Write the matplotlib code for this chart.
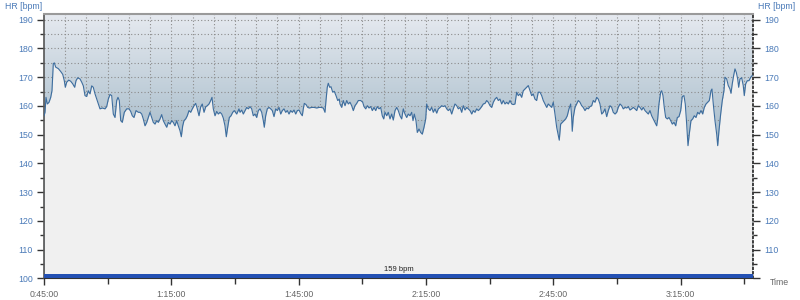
import matplotlib
matplotlib.use('Agg')
import matplotlib.pyplot as plt
import numpy as np
from matplotlib.ticker import MultipleLocator, FuncFormatter
from matplotlib.colors import LinearSegmentedColormap

plt.rcParams['font.family'] = ['Liberation Sans', 'DejaVu Sans']

# elapsed clock time in minutes (0:45:00 = 45)
time_min = [
    45.00, 45.24, 45.47, 45.78, 46.18, 46.58, 46.88, 47.19, 47.43, 47.76, 48.37, 48.93, 49.41, 49.78,
    50.02, 50.35, 50.82, 51.29, 51.76, 52.23, 52.54, 52.94, 53.48, 53.88, 54.26, 54.66, 55.06, 55.44,
    55.84, 56.24, 56.61, 57.02, 57.42, 57.79, 58.19, 58.74, 59.37, 59.77, 60.15, 60.55, 60.95, 61.33,
    61.73, 62.13, 62.43, 62.74, 63.07, 63.45, 63.92, 64.48, 65.03, 65.43, 65.80, 66.20, 66.68, 67.22,
    67.62, 68.02, 68.39, 68.80, 69.20, 69.57, 69.97, 70.37, 70.75, 71.15, 71.55, 71.93, 72.33, 72.73,
    73.11, 73.51, 73.91, 74.28, 74.69, 75.09, 75.46, 75.86, 76.26, 76.64, 77.04, 77.35, 77.68, 77.98,
    78.38, 78.76, 79.16, 79.56, 79.94, 80.34, 80.74, 81.12, 81.52, 81.92, 82.29, 82.70, 83.10, 83.47,
    83.87, 84.27, 84.58, 84.89, 85.29, 85.69, 86.06, 86.47, 86.87, 87.24, 87.64, 87.95, 88.28, 88.66,
    89.06, 89.46, 89.83, 90.40, 90.94,
    91.18, 91.58, 91.95, 92.36, 92.76, 93.13, 93.53, 93.93, 94.31, 94.71, 95.11, 95.49, 95.89, 96.29,
    96.67, 96.90, 97.23, 97.61, 98.01, 98.41, 98.79, 99.19, 99.59, 99.97, 100.37, 100.77, 101.14,
    101.54, 101.94, 102.32, 102.72, 103.12, 103.50, 103.90, 104.30, 104.68, 105.08, 105.48, 105.86,
    106.09, 106.33, 106.73, 107.13, 107.50, 108.07, 108.61, 109.25, 109.79, 110.26, 110.80, 111.20,
    111.44, 111.74, 111.98, 112.31, 112.62, 113.02, 113.39, 113.80, 114.20, 114.57,
    114.74, 115.14, 115.51, 115.92, 116.32, 116.69, 117.09, 117.49, 117.87, 118.27, 118.67, 119.05,
    119.61, 120.09, 120.39, 120.79, 121.17, 121.57, 121.97, 122.35, 122.75, 123.15, 123.52, 123.93,
    124.33, 124.70, 125.03, 125.34, 125.74, 126.11, 126.52, 126.92, 127.29, 127.70, 128.10, 128.47,
    128.87, 129.27, 129.65, 130.05, 130.45, 130.83, 131.23, 131.63, 131.94, 132.24, 132.64, 132.95,
    133.35, 133.75, 134.13, 134.53, 134.93, 135.16, 135.54, 135.94, 136.34, 136.72, 137.12, 137.52,
    137.90,
    138.30, 138.70, 139.07, 139.48, 139.88, 140.25, 140.65, 141.05, 141.43, 141.83, 142.23, 142.61,
    143.01, 143.41, 143.79, 144.19, 144.59, 144.96, 145.37, 145.77, 146.14, 146.54, 146.94, 147.32,
    147.72, 148.12, 148.50, 148.90, 149.30, 149.67, 150.08, 150.48, 150.86, 151.26, 151.66, 152.03,
    152.43, 152.83, 153.21, 153.61, 154.01, 154.39, 154.79, 155.19, 155.56, 155.97, 156.37, 156.74,
    157.14, 157.54, 157.92, 158.32, 158.72, 159.10, 159.50, 159.90, 160.27, 160.67, 161.07, 161.45,
    161.86, 162.26, 162.63, 163.04, 163.44, 163.81, 164.21, 164.61, 164.99, 165.39, 165.79, 166.17,
    166.40, 166.73, 167.11, 167.51, 167.91, 168.29, 168.69, 169.09, 169.32, 169.46, 169.70, 170.10,
    170.50, 170.88, 171.28, 171.68, 172.05, 172.46, 172.86, 173.23, 173.64, 174.04, 174.41, 174.82,
    175.22, 175.59, 175.99, 176.39, 176.77, 177.17, 177.57, 177.95, 178.35, 178.75, 179.12, 179.53,
    179.93, 180.30, 180.71, 181.11, 181.48, 181.89, 182.29, 182.66, 183.06, 183.46, 183.84, 184.24,
    184.64, 185.02, 185.42, 185.82, 186.19,
    186.60, 187.00, 187.37, 187.77, 188.17, 188.55, 188.95, 189.35, 189.59, 189.89, 190.29, 190.53,
    190.84, 191.14, 191.47, 191.85, 192.25, 192.65, 193.03, 193.43, 193.83, 194.21, 194.61, 195.01,
    195.38, 195.78, 196.09, 196.42, 196.73, 197.03, 197.43, 197.83, 198.21, 198.61, 199.01, 199.39,
    199.79, 200.19, 200.57, 200.97, 201.37, 201.75, 202.15, 202.38, 202.69, 203.09, 203.49, 203.73,
    204.03, 204.43, 204.81, 205.21, 205.44, 205.84, 206.22, 206.62, 206.86, 207.16, 207.49, 207.80,
    208.11, 208.44, 208.67, 208.98, 209.38, 209.75, 209.99, 210.32, 210.70, 211.10, 211.50, 211.87,
]

hr_bpm = [
    156.6, 157.8, 163.0, 160.7, 161.3, 163.0, 165.3, 174.7, 175.0, 173.5, 173.0, 172.0, 171.0, 168.8,
    166.5, 168.3, 169.0, 168.6, 167.7, 166.5, 168.8, 169.8, 169.4, 168.3, 167.0, 163.6, 163.3, 165.3,
    164.2, 167.0, 166.5, 164.2, 162.4, 160.7, 159.0, 159.3, 159.0, 159.8, 162.4, 164.0, 163.6, 157.2,
    156.0, 161.9, 163.0, 161.9, 154.9, 154.3, 157.8, 159.0, 159.0, 158.1, 156.6, 156.0, 158.4, 157.8,
    157.8, 157.2, 155.5, 153.1, 154.3, 156.0, 157.8, 156.0, 154.3, 153.7, 154.9, 154.3, 155.5, 157.0,
    154.9, 153.7, 152.6, 154.3, 153.7, 154.9, 154.3, 153.1, 154.9, 153.1, 151.4, 149.3, 153.1, 154.9,
    155.5, 156.6, 158.4, 157.8, 159.0, 160.1, 160.9, 159.0, 156.6, 159.7, 160.7, 157.8, 159.7, 160.1,
    160.7, 161.9, 163.0, 159.0, 156.6, 158.1, 157.2, 157.8, 157.2, 155.8, 153.1, 149.3, 152.6, 156.0,
    156.6, 157.8, 158.4, 157.2, 159.0,
    157.8, 158.6, 157.2, 158.4, 159.5, 159.0, 159.8, 159.0, 156.6, 157.2, 156.0, 158.4, 159.0, 157.8,
    154.9, 152.6, 156.6, 159.0, 159.5, 159.0, 158.4, 156.3, 159.0, 158.4, 159.5, 157.2, 158.4,
    159.0, 157.8, 158.4, 157.2, 158.4, 157.8, 158.6, 157.2, 158.4, 158.6, 157.4, 156.6,
    159.0, 160.9, 160.5, 159.5, 159.3, 159.5, 159.5, 159.3, 159.5, 159.5, 159.3, 157.8,
    161.9, 166.5, 167.9, 166.5, 166.7, 164.8, 165.1, 163.6, 161.9, 162.4,
    160.7, 159.5, 161.9, 160.1, 161.9, 160.7, 161.3, 160.1, 158.4, 160.1, 160.9, 161.9,
    161.9, 161.3, 159.8, 159.0, 160.1, 159.3, 159.8, 158.4, 159.5, 158.4, 159.8, 159.0,
    159.5, 156.6, 155.5, 157.8, 156.6, 157.8, 155.5, 157.2, 155.1, 158.4, 159.5, 158.4,
    156.6, 155.5, 159.0, 157.2, 156.0, 157.2, 156.6, 157.8, 154.9, 157.2, 154.9, 150.8,
    152.0, 150.8, 150.2, 152.6, 155.5, 160.7, 159.0, 158.4, 159.5, 157.8, 159.0, 157.5,
    159.0,
    159.5, 160.1, 159.8, 160.1, 159.0, 158.4, 159.0, 157.2, 159.0, 160.7, 160.1, 159.0,
    159.5, 157.8, 160.1, 158.6, 159.5, 159.0, 158.4, 157.2, 158.4, 157.8, 159.0, 158.4,
    159.0, 159.8, 160.7, 160.9, 161.9, 161.3, 160.1, 159.5, 161.3, 162.4, 163.0, 161.9,
    162.4, 160.7, 161.9, 160.7, 161.3, 160.7, 161.9, 160.7, 160.5, 160.7, 164.8, 163.6,
    164.2, 163.0, 165.3, 165.9, 166.5, 167.1, 165.3, 163.6, 164.2, 162.4, 161.9, 164.8,
    164.8, 163.6, 161.9, 160.7, 159.5, 160.7, 160.1, 159.5, 161.3, 157.2, 152.6, 149.7,
    148.1, 153.7, 154.3, 154.9, 155.5, 156.6, 159.0, 160.7, 156.0, 151.2, 156.0, 159.5,
    160.7, 161.9, 161.3, 160.1, 159.5, 158.4, 159.3, 159.0, 159.8, 160.1, 161.9, 161.3,
    163.0, 162.4, 160.7, 157.2, 157.8, 159.0, 156.3, 158.4, 160.1, 159.5, 157.8, 157.2,
    157.8, 159.5, 160.7, 160.1, 159.0, 159.5, 159.3, 159.8, 158.6, 159.0, 159.5, 159.0,
    158.4, 160.1, 159.5, 158.6, 159.5,
    158.4, 157.8, 157.2, 158.4, 156.6, 155.5, 154.3, 153.1, 155.5, 160.7, 164.8, 165.3,
    163.6, 159.5, 156.0, 155.5, 156.0, 154.9, 153.7, 154.3, 153.1, 156.0, 156.3, 158.4,
    163.3, 163.6, 160.7, 153.7, 146.2, 150.2, 154.9, 155.5, 156.6, 156.0, 157.8, 157.2,
    158.4, 157.2, 159.5, 160.7, 161.3, 161.9, 165.3, 165.9, 160.7, 154.9, 150.2, 146.2,
    151.4, 157.2, 161.9, 165.3, 170.0, 169.4, 167.1, 165.9, 164.4, 167.7, 170.6, 172.9,
    171.7, 169.4, 166.5, 169.4, 169.8, 167.1, 163.6, 167.7, 168.8, 168.8, 170.0, 170.6,
]

avg_hr = 159
x_start, x_end = 45, 212
y_min, y_max = 100, 192

fig = plt.figure(figsize=(8, 3), dpi=100)
ax = fig.add_axes([0.055, 0.0717, 0.886, 0.8817])
ax.set_xlim(x_start, x_end)
ax.set_ylim(y_min, y_max)

# background gradient
cmap = LinearSegmentedColormap.from_list('bg', ['#638aa1', '#e6eaf0'])
grad = np.linspace(0, 1, 256).reshape(-1, 1)
ax.imshow(grad, extent=[x_start, x_end, y_min, y_max], aspect='auto', cmap=cmap,
          origin='lower', zorder=0, interpolation='bilinear')

# dotted grid every 5 min / 5 bpm
for gx in np.arange(x_start + 5, x_end, 5):
    ax.axvline(gx, color='#8c8c8c', lw=0.8, ls=(0, (1, 2)), zorder=1)
for gy in np.arange(105, y_max, 5):
    ax.axhline(gy, color='#8c8c8c', lw=0.8, ls=(0, (1, 2)), zorder=1)

ax.fill_between(time_min, y_min, hr_bpm, color='#f0f0f0', zorder=2, lw=0)
ax.plot(time_min, hr_bpm, color='#3d6d9e', lw=0.8, zorder=3)

# average band
ax.axhspan(y_min, y_min + 1.6, color='#2350b3', zorder=4, lw=0)
ax.text((x_start + x_end) / 2, y_min + 1.9, f'{avg_hr} bpm', ha='center', va='bottom',
        fontsize=5.5, color='#222222', zorder=5)

# ticks
ax.xaxis.set_major_locator(MultipleLocator(30, offset=15))
ax.xaxis.set_minor_locator(MultipleLocator(15))
ax.xaxis.set_major_formatter(FuncFormatter(lambda v, p: f"{int(v // 60)}:{int(round(v % 60)):02d}:00"))
ax.yaxis.set_major_locator(MultipleLocator(10))
ax.yaxis.set_minor_locator(MultipleLocator(5))

ax.tick_params(axis='x', which='both', direction='out', colors='#333333', labelcolor='#666666',
               labelsize=6.3, pad=3)
ax.tick_params(axis='x', which='major', length=5, width=1)
ax.tick_params(axis='x', which='minor', length=4, width=1)
ax.tick_params(axis='y', which='both', direction='out', left=True, right=True,
               labelleft=True, labelright=True, colors='#333333', labelcolor='#4a7ab8',
               labelsize=6.3, pad=3)
ax.tick_params(axis='y', which='major', length=5, width=1)
ax.tick_params(axis='y', which='minor', length=3, width=1)

ax.spines['top'].set_color('#9a9a9a')
ax.spines['top'].set_linewidth(1.5)
ax.spines['left'].set_color('#555555')
ax.spines['left'].set_linewidth(1.2)
ax.spines['bottom'].set_color('#333333')
ax.spines['right'].set_color('#222222')
ax.spines['right'].set_linestyle(':')
ax.spines['right'].set_linewidth(1.2)

# hide the bottom-right "100" label (the reference shows "Time" there instead)
fig.canvas.draw()
for tick in ax.yaxis.get_major_ticks():
    if abs(tick.get_loc() - y_min) < 1e-6:
        tick.label2.set_visible(False)

fig.text(0.006, 0.978, 'HR [bpm]', color='#4a7ab8', fontsize=6.3, va='center', ha='left')
fig.text(0.947, 0.978, 'HR [bpm]', color='#4a7ab8', fontsize=6.3, va='center', ha='left')
fig.text(0.962, 0.057, 'Time', color='#666666', fontsize=6.3, va='center', ha='left')

fig.savefig('out.png', dpi=100)
